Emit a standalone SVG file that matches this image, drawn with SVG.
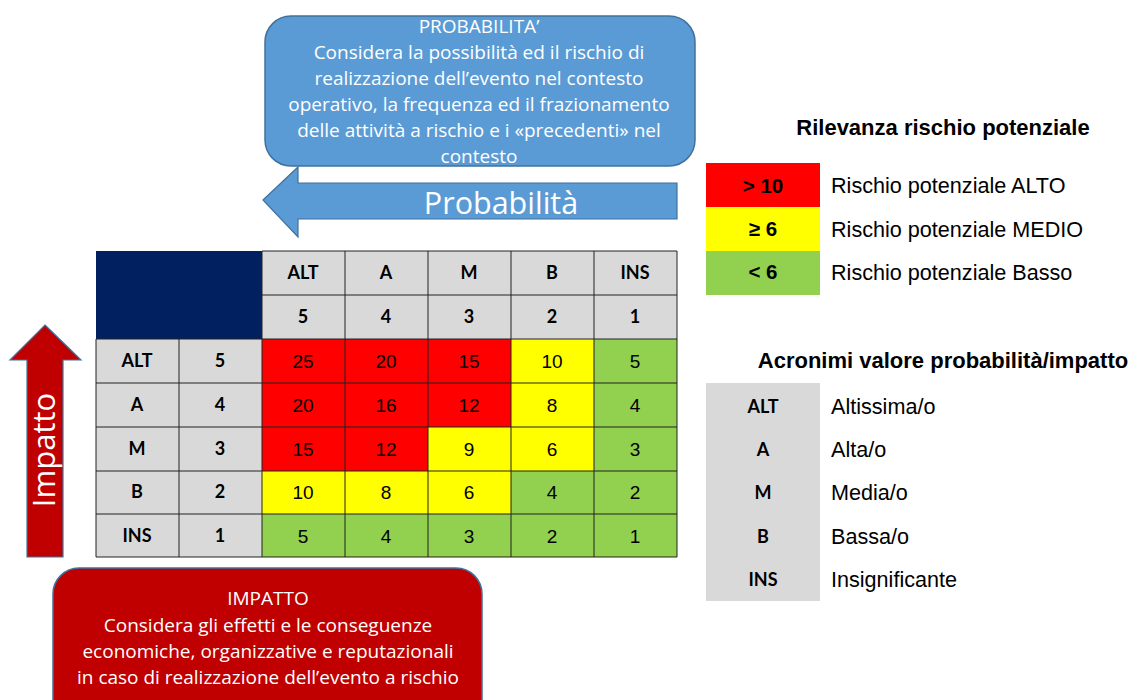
<svg xmlns="http://www.w3.org/2000/svg" width="1129" height="700" viewBox="0 0 1129 700">
<style>
.cw{font-family:"Open Sans",Lato,sans-serif;fill:#fff;text-anchor:middle}
.hd{font-family:Lato,"Open Sans",sans-serif;font-weight:bold;font-size:18px;fill:#000;text-anchor:middle}
.nm{font-family:"Liberation Sans",Arial,sans-serif;font-size:19px;fill:#000;text-anchor:middle}
.lg{font-family:"Liberation Sans",Arial,sans-serif;font-size:21.6px;fill:#000}
.lt{font-family:"Liberation Sans",Arial,sans-serif;font-size:22px;font-weight:bold;fill:#000;text-anchor:middle}
.lv{font-family:"Liberation Sans",Arial,sans-serif;font-size:20.5px;font-weight:bold;fill:#000;text-anchor:middle}
.g{fill:#D9D9D9}.r{fill:#FF0000}.y{fill:#FFFF00}.gr{fill:#92D050}
.grid line{stroke:#222;stroke-width:1}
</style>
<rect width="1129" height="700" fill="#fff"/>

<g id="probabilita-callout">
<rect x="265" y="16" width="430" height="150" rx="26" fill="#5B9BD5" stroke="#41719C" stroke-width="1.5"/>
<text class="cw" font-size="19" x="479" y="33">PROBABILITA’</text>
<text class="cw" font-size="19" x="479" y="59">Considera la possibilità ed il rischio di</text>
<text class="cw" font-size="19" x="479" y="85">realizzazione dell’evento nel contesto</text>
<text class="cw" font-size="19" x="479" y="111">operativo, la frequenza ed il frazionamento</text>
<text class="cw" font-size="19" x="479" y="137">delle attività a rischio e i «precedenti» nel</text>
<text class="cw" font-size="19" x="479" y="163">contesto</text>
</g>

<g id="probabilita-arrow">
<polygon points="263,200 298,167 298,183 677,183 677,219 298,219 298,237" fill="#5B9BD5" stroke="#41719C" stroke-width="1.2"/>
<text class="cw" font-size="30.5" x="501" y="214">Probabilità</text>
</g>

<g id="impatto-arrow">
<polygon points="45,325 81,360 63,360 63,557 27,557 27,360 10,360" fill="#C00000" stroke="#41719C" stroke-width="1.2"/>
<text class="cw" font-size="31" transform="translate(55,450) rotate(-90)">Impatto</text>
</g>

<g id="impatto-callout">
<rect x="53" y="568" width="429" height="160" rx="26" fill="#C00000" stroke="#41719C" stroke-width="1.5"/>
<text class="cw" font-size="19" x="268" y="605">IMPATTO</text>
<text class="cw" font-size="19" x="268" y="632">Considera gli effetti e le conseguenze</text>
<text class="cw" font-size="19" x="268" y="658">economiche, organizzative e reputazionali</text>
<text class="cw" font-size="19" x="268" y="684">in caso di realizzazione dell’evento a rischio</text>
</g>

<g id="matrix">
<rect x="96" y="251" width="166" height="88" fill="#002060"/>
<rect class="g" x="262" y="251" width="415" height="88"/>
<rect class="g" x="96" y="339" width="166" height="218"/>
<rect class="r" x="262" y="339" width="249" height="44"/><rect class="y" x="511" y="339" width="83" height="44"/><rect class="gr" x="594" y="339" width="83" height="44"/>
<rect class="r" x="262" y="383" width="249" height="44"/><rect class="y" x="511" y="383" width="83" height="44"/><rect class="gr" x="594" y="383" width="83" height="44"/>
<rect class="r" x="262" y="427" width="166" height="44"/><rect class="y" x="428" y="427" width="166" height="44"/><rect class="gr" x="594" y="427" width="83" height="44"/>
<rect class="y" x="262" y="471" width="249" height="43"/><rect class="gr" x="511" y="471" width="166" height="43"/>
<rect class="gr" x="262" y="514" width="415" height="43"/>
<g class="grid">
<line x1="262" y1="251" x2="677" y2="251"/>
<line x1="262" y1="295" x2="677" y2="295"/>
<line x1="96" y1="339" x2="677" y2="339"/>
<line x1="96" y1="383" x2="677" y2="383"/>
<line x1="96" y1="427" x2="677" y2="427"/>
<line x1="96" y1="471" x2="677" y2="471"/>
<line x1="96" y1="514" x2="677" y2="514"/>
<line x1="96" y1="557" x2="677" y2="557"/>
<line x1="96" y1="339" x2="96" y2="557"/>
<line x1="179" y1="339" x2="179" y2="557"/>
<line x1="262" y1="251" x2="262" y2="557"/>
<line x1="345" y1="251" x2="345" y2="557"/>
<line x1="428" y1="251" x2="428" y2="557"/>
<line x1="511" y1="251" x2="511" y2="557"/>
<line x1="594" y1="251" x2="594" y2="557"/>
<line x1="677" y1="251" x2="677" y2="557"/>
</g>
<text class="hd" x="303" y="279">ALT</text><text class="hd" x="386" y="279">A</text><text class="hd" x="469" y="279">M</text><text class="hd" x="552" y="279">B</text><text class="hd" x="635" y="279">INS</text>
<text class="hd" x="303" y="323">5</text><text class="hd" x="386" y="323">4</text><text class="hd" x="469" y="323">3</text><text class="hd" x="552" y="323">2</text><text class="hd" x="635" y="323">1</text>
<text class="hd" x="137" y="367">ALT</text><text class="hd" x="220" y="367">5</text>
<text class="hd" x="137" y="411">A</text><text class="hd" x="220" y="411">4</text>
<text class="hd" x="137" y="455">M</text><text class="hd" x="220" y="455">3</text>
<text class="hd" x="137" y="498">B</text><text class="hd" x="220" y="498">2</text>
<text class="hd" x="137" y="542">INS</text><text class="hd" x="220" y="542">1</text>
<text class="nm" x="303" y="368">25</text><text class="nm" x="386" y="368">20</text><text class="nm" x="469" y="368">15</text><text class="nm" x="552" y="368">10</text><text class="nm" x="635" y="368">5</text>
<text class="nm" x="303" y="412">20</text><text class="nm" x="386" y="412">16</text><text class="nm" x="469" y="412">12</text><text class="nm" x="552" y="412">8</text><text class="nm" x="635" y="412">4</text>
<text class="nm" x="303" y="456">15</text><text class="nm" x="386" y="456">12</text><text class="nm" x="469" y="456">9</text><text class="nm" x="552" y="456">6</text><text class="nm" x="635" y="456">3</text>
<text class="nm" x="303" y="499">10</text><text class="nm" x="386" y="499">8</text><text class="nm" x="469" y="499">6</text><text class="nm" x="552" y="499">4</text><text class="nm" x="635" y="499">2</text>
<text class="nm" x="303" y="543">5</text><text class="nm" x="386" y="543">4</text><text class="nm" x="469" y="543">3</text><text class="nm" x="552" y="543">2</text><text class="nm" x="635" y="543">1</text>
</g>

<g id="legend-rilevanza">
<text class="lt" x="943" y="135">Rilevanza rischio potenziale</text>
<rect class="r" x="706" y="163" width="114" height="44"/>
<rect class="y" x="706" y="207" width="114" height="44"/>
<rect class="gr" x="706" y="251" width="114" height="44"/>
<text class="lv" x="763" y="193">&gt; 10</text>
<text class="lv" x="763" y="236">≥ 6</text>
<text class="lv" x="763" y="279">&lt; 6</text>
<text class="lg" x="831" y="193">Rischio potenziale ALTO</text>
<text class="lg" x="831" y="237">Rischio potenziale MEDIO</text>
<text class="lg" x="831" y="280">Rischio potenziale Basso</text>
</g>

<g id="legend-acronimi">
<text class="lt" x="943" y="368">Acronimi valore probabilità/impatto</text>
<rect class="g" x="706" y="383" width="114" height="218"/>
<text class="hd" x="763" y="413">ALT</text>
<text class="hd" x="763" y="456">A</text>
<text class="hd" x="763" y="499">M</text>
<text class="hd" x="763" y="543">B</text>
<text class="hd" x="763" y="586">INS</text>
<text class="lg" x="831" y="414">Altissima/o</text>
<text class="lg" x="831" y="457">Alta/o</text>
<text class="lg" x="831" y="500">Media/o</text>
<text class="lg" x="831" y="544">Bassa/o</text>
<text class="lg" x="831" y="587">Insignificante</text>
</g>
</svg>
